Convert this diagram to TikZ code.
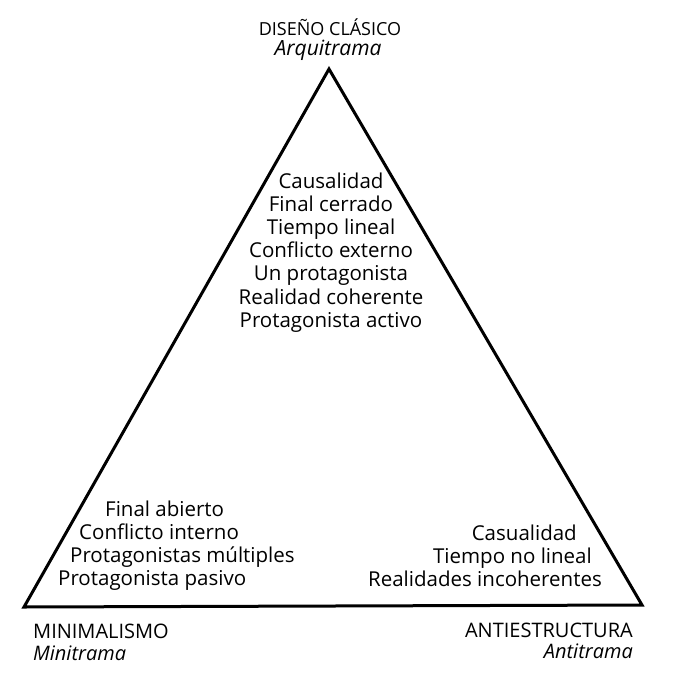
\documentclass[tikz,border=0pt]{standalone}
\usepackage{fontspec}
\setmainfont{Open Sans}
\begin{document}
\begin{tikzpicture}[x=1pt,y=-1pt,every node/.style={font=\fontsize{20.5}{24}\selectfont,inner sep=0pt},
  corner/.style={anchor=base},slant/.style={font=\fontsize{20}{24}\selectfont\itshape},
  caps/.style={font=\fontsize{20}{24}\selectfont}]
\useasboundingbox (0,0) rectangle (674,678);
% Triangle
\coordinate (top) at (329,69);
\coordinate (left) at (24,607);
\coordinate (right) at (642,605);
\draw[line width=3pt,line join=miter] (top) -- (right) -- (left) -- cycle;
% Corner labels
\node[corner,font=\fontsize{18}{22}\selectfont] (clasico) at (330,35) {DISEÑO CLÁSICO};
\node[corner,slant,font=\fontsize{21}{24}\selectfont\itshape] (arqui) at (328,55) {Arquitrama};
\node[anchor=base west,caps] (mini) at (33,638) {MINIMALISMO};
\node[anchor=base west,slant] (minit) at (33,660) {Minitrama};
\node[anchor=base east,caps] (anti) at (633,637) {ANTIESTRUCTURA};
\node[anchor=base east,slant] (antit) at (633,658) {Antitrama};
% Arquitrama
\foreach \txt [count=\i] in {Causalidad,Final cerrado,Tiempo lineal,Conflicto externo,Un protagonista,Realidad coherente,Protagonista activo}
  \node[corner] (arq\i) at (331,{188+23.2*(\i-1)}) {\txt};
% Minitrama
\node[anchor=base west] (min1) at (105,516) {Final abierto};
\node[anchor=base west] (min2) at (79,539) {Conflicto interno};
\node[anchor=base west] (min3) at (70,562) {Protagonistas múltiples};
\node[anchor=base west] (min4) at (58,585) {Protagonista pasivo};
% Antitrama
\node[anchor=base east] (ant1) at (577,540) {Casualidad};
\node[anchor=base east] (ant2) at (592,563) {Tiempo no lineal};
\node[anchor=base east] (ant3) at (602,586) {Realidades incoherentes};
\end{tikzpicture}
\end{document}
